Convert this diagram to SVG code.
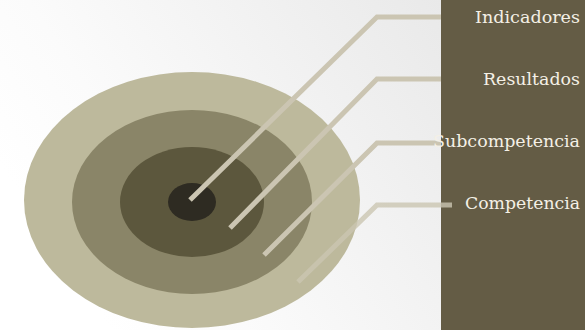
<svg xmlns="http://www.w3.org/2000/svg" width="585" height="330" viewBox="0 0 585 330">
<defs>
<linearGradient id="bg" x1="0" y1="0.5" x2="1" y2="0">
<stop offset="0" stop-color="#ffffff"/>
<stop offset="0.25" stop-color="#fbfbfb"/>
<stop offset="1" stop-color="#e9e9e9"/>
</linearGradient>
</defs>
<style>
.lbl{font-family:"DejaVu Serif","Liberation Serif",serif;font-size:16.5px;fill:#f4f0e6;text-anchor:end}
.con{fill:none;stroke:#cbc5b2;stroke-width:5;stroke-linejoin:miter}
</style>
<rect x="0" y="0" width="441" height="330" fill="url(#bg)"/>
<rect id="panel" x="441" y="0" width="144" height="330" fill="#645c45"/>
<g id="competencia-ring"><ellipse cx="192" cy="200" rx="168" ry="128" fill="#bdb99c"/></g>
<g id="subcompetencia-ring"><ellipse cx="192" cy="202" rx="120" ry="92" fill="#8a8568"/></g>
<g id="resultados-ring"><ellipse cx="192" cy="202" rx="72" ry="55" fill="#5c573d"/></g>
<g id="indicadores-ring"><ellipse cx="192" cy="202" rx="24" ry="19" fill="#2e2b22"/></g>
<g id="connectors">
<polyline class="con" points="190,200 377,17 441,17"/>
<polyline class="con" points="230,228 377,79 441,79"/>
<polyline class="con" points="264,255 377,143 441,143"/>
<polyline class="con" points="298,282 377,205 452,205" opacity="0.8"/>
</g>
<g id="label-indicadores"><text class="lbl" x="580" y="23" textLength="105" lengthAdjust="spacingAndGlyphs">Indicadores</text></g>
<g id="label-resultados"><text class="lbl" x="580" y="85" textLength="97" lengthAdjust="spacingAndGlyphs">Resultados</text></g>
<g id="label-subcompetencia"><text class="lbl" x="580" y="147" textLength="147" lengthAdjust="spacingAndGlyphs">Subcompetencia</text></g>
<g id="label-competencia"><text class="lbl" x="580" y="209" textLength="115" lengthAdjust="spacingAndGlyphs">Competencia</text></g>
</svg>
